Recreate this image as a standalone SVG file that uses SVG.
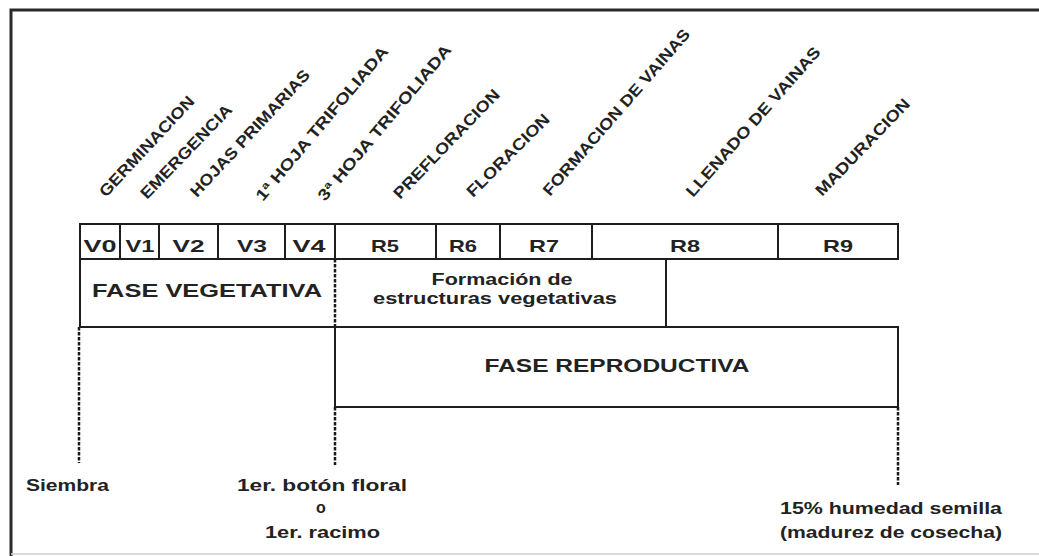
<svg xmlns="http://www.w3.org/2000/svg" width="1039" height="556" viewBox="0 0 1039 556">
<style>
.ln{fill:none;stroke:#1e1e1e;stroke-width:2}
.dash{fill:none;stroke:#1a1a1a;stroke-width:2.5;stroke-dasharray:3.5 1.5}
text{font-family:"Liberation Sans",Arial,sans-serif;font-weight:bold;fill:#222}
.st{font-size:17px;text-anchor:middle}
.rot{font-size:16px}
.ph{font-size:19px;text-anchor:middle}
.sm{font-size:16px;text-anchor:middle}
.bt{font-size:16px;text-anchor:middle}
</style>
<rect width="1039" height="556" fill="#ffffff"/>
<g id="frame">
<path d="M11,556 V10 H1039" fill="none" stroke="#2a2a2a" stroke-width="3"/>
<path d="M11,554 H1039" fill="none" stroke="#cfcfcf" stroke-width="1.5"/>
</g>
<g id="stage-labels">
<text class="rot" transform="translate(106,198) rotate(-47)" textLength="131" lengthAdjust="spacingAndGlyphs">GERMINACION</text>
<text class="rot" transform="translate(147,200) rotate(-46)" textLength="124" lengthAdjust="spacingAndGlyphs">EMERGENCIA</text>
<text class="rot" transform="translate(197,198) rotate(-47)" textLength="167" lengthAdjust="spacingAndGlyphs">HOJAS PRIMARIAS</text>
<text class="rot" transform="translate(263,202) rotate(-50)" textLength="196" lengthAdjust="spacingAndGlyphs">1ª HOJA TRIFOLIADA</text>
<text class="rot" transform="translate(325,202) rotate(-50)" textLength="198" lengthAdjust="spacingAndGlyphs">3ª HOJA TRIFOLIADA</text>
<text class="rot" transform="translate(400,200) rotate(-46)" textLength="145" lengthAdjust="spacingAndGlyphs">PREFLORACION</text>
<text class="rot" transform="translate(473,198) rotate(-45)" textLength="110" lengthAdjust="spacingAndGlyphs">FLORACION</text>
<text class="rot" transform="translate(550,197) rotate(-49)" textLength="215" lengthAdjust="spacingAndGlyphs">FORMACION DE VAINAS</text>
<text class="rot" transform="translate(693,198) rotate(-48.5)" textLength="194" lengthAdjust="spacingAndGlyphs">LLENADO DE VAINAS</text>
<text class="rot" transform="translate(822,197) rotate(-46)" textLength="128" lengthAdjust="spacingAndGlyphs">MADURACION</text>
</g>
<g id="stages">
<rect class="ln" x="80" y="224" width="818" height="35"/>
<path class="ln" d="M120,224V259M159,224V259M218,224V259M285,224V259M335,224V259M436,224V259M500,224V259M592,224V259M778,224V259"/>
<text class="st" x="100" y="252" textLength="33" lengthAdjust="spacingAndGlyphs">V0</text>
<text class="st" x="140" y="252" textLength="29" lengthAdjust="spacingAndGlyphs">V1</text>
<text class="st" x="188.5" y="252" textLength="32" lengthAdjust="spacingAndGlyphs">V2</text>
<text class="st" x="252" y="252" textLength="30" lengthAdjust="spacingAndGlyphs">V3</text>
<text class="st" x="309" y="252" textLength="33" lengthAdjust="spacingAndGlyphs">V4</text>
<text class="st" x="385" y="252" textLength="28" lengthAdjust="spacingAndGlyphs">R5</text>
<text class="st" x="463" y="252" textLength="28" lengthAdjust="spacingAndGlyphs">R6</text>
<text class="st" x="544" y="252" textLength="30" lengthAdjust="spacingAndGlyphs">R7</text>
<text class="st" x="685" y="252" textLength="30" lengthAdjust="spacingAndGlyphs">R8</text>
<text class="st" x="838" y="252" textLength="30" lengthAdjust="spacingAndGlyphs">R9</text>
</g>
<g id="fase-vegetativa">
<path class="ln" d="M335,259H80V327H335"/>
<text class="ph" x="207" y="297" textLength="230" lengthAdjust="spacingAndGlyphs">FASE  VEGETATIVA</text>
</g>
<g id="formacion">
<path class="ln" d="M335,259H666V327H335"/>
<text class="sm" x="502" y="285" textLength="141" lengthAdjust="spacingAndGlyphs">Formación de</text>
<text class="sm" x="495" y="304" textLength="244" lengthAdjust="spacingAndGlyphs">estructuras vegetativas</text>
</g>
<g id="fase-reproductiva">
<rect class="ln" x="335" y="327" width="563" height="80"/>
<text class="ph" x="617" y="372" textLength="265" lengthAdjust="spacingAndGlyphs">FASE  REPRODUCTIVA</text>
</g>
<g id="connectors">
<line class="dash" x1="335" y1="259" x2="335" y2="327"/>
<line class="dash" x1="79" y1="327" x2="79" y2="463"/>
<line class="dash" x1="335" y1="407" x2="335" y2="465"/>
<line class="dash" x1="898" y1="407" x2="898" y2="485"/>
</g>
<g id="siembra">
<text class="bt" x="67.5" y="491" textLength="83" lengthAdjust="spacingAndGlyphs">Siembra</text>
</g>
<g id="boton-floral">
<text class="bt" x="322" y="491" textLength="170" lengthAdjust="spacingAndGlyphs">1er. botón floral</text>
<text class="bt" x="321" y="513">o</text>
<text class="bt" x="322.5" y="538" textLength="115" lengthAdjust="spacingAndGlyphs">1er. racimo</text>
</g>
<g id="madurez">
<text class="bt" x="891" y="514" textLength="222" lengthAdjust="spacingAndGlyphs">15% humedad semilla</text>
<text class="bt" x="891" y="538" textLength="222" lengthAdjust="spacingAndGlyphs">(madurez de cosecha)</text>
</g>
</svg>
